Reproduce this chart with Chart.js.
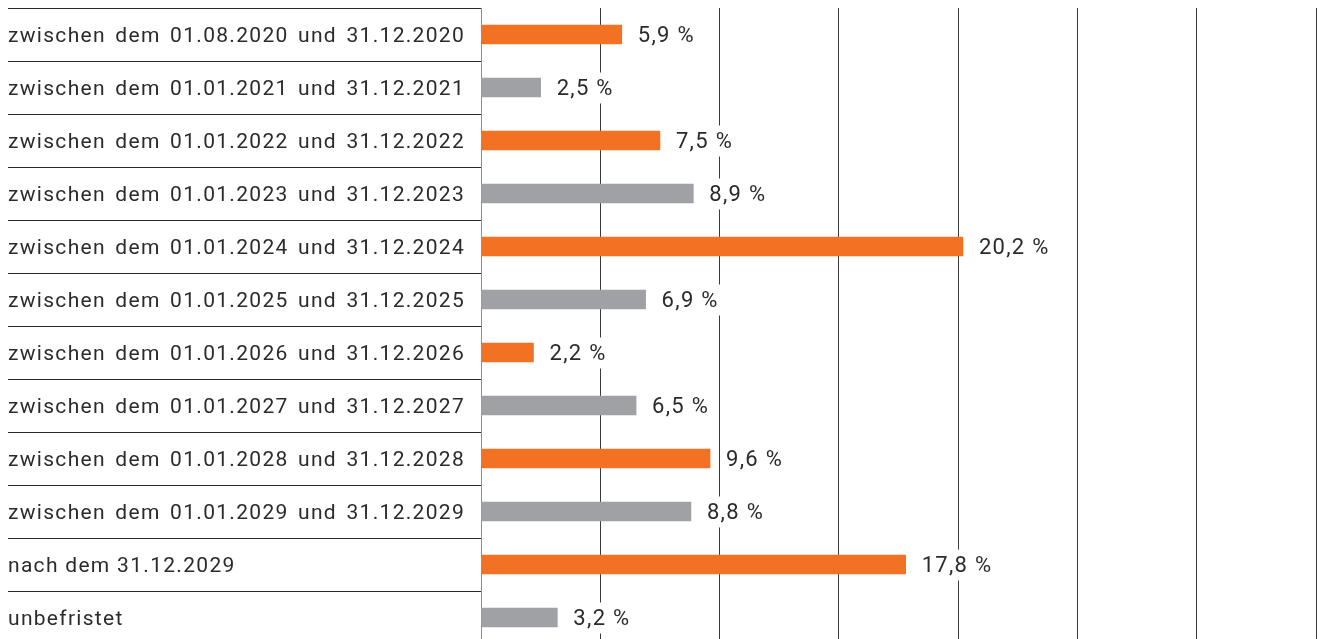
<!DOCTYPE html>
<html>
<head>
<meta charset="utf-8">
<script src="https://cdn.jsdelivr.net/npm/chart.js@4/dist/chart.umd.min.js"></script>
<style>
  html, body { margin: 0; padding: 0; background: #fff; overflow: hidden; }
  #wrap { position: relative; width: 1317px; height: 644px; }
</style>
</head>
<body>
<div id="wrap"><canvas id="laufzeitChart"></canvas></div>
<script>
// Laufzeiten – Anteil in %
const categories = [
  'zwischen dem 01.08.2020 und 31.12.2020',
  'zwischen dem 01.01.2021 und 31.12.2021',
  'zwischen dem 01.01.2022 und 31.12.2022',
  'zwischen dem 01.01.2023 und 31.12.2023',
  'zwischen dem 01.01.2024 und 31.12.2024',
  'zwischen dem 01.01.2025 und 31.12.2025',
  'zwischen dem 01.01.2026 und 31.12.2026',
  'zwischen dem 01.01.2027 und 31.12.2027',
  'zwischen dem 01.01.2028 und 31.12.2028',
  'zwischen dem 01.01.2029 und 31.12.2029',
  'nach dem 31.12.2029',
  'unbefristet'
];
const shares = [5.9, 2.5, 7.5, 8.9, 20.2, 6.9, 2.2, 6.5, 9.6, 8.8, 17.8, 3.2];

const axisMin = 0;
const axisMax = 35;
const axisStep = 5;

const ORANGE = '#f37123';
const GREY = '#a0a1a5';
const TEXT = '#2b2b2b';
const barColors = shares.map((_, i) => (i % 2 === 0 ? ORANGE : GREY));

const LABEL_LEFT = 8;
const LABEL_WIDTH = 457;   // the long rows are set justified to this width
const AXIS_WIDTH = 473;

function formatShare(v) {
  return v.toFixed(1).replace('.', ',') + '\u00A0%';
}

// category labels, drawn word by word so the long ones can be justified
const rowLabels = {
  id: 'rowLabels',
  afterDraw(chart) {
    const { ctx } = chart;
    const yScale = chart.scales.y;
    ctx.save();
    ctx.font = '21px Roboto';
    ctx.letterSpacing = '1.3px';
    ctx.fillStyle = TEXT;
    ctx.textBaseline = 'middle';
    ctx.textAlign = 'left';
    categories.forEach((label, i) => {
      const y = yScale.getPixelForValue(i) + 2;
      const words = label.split(' ');
      if (words.length < 4) {
        ctx.fillText(label, LABEL_LEFT, y);
        return;
      }
      const widths = words.map(w => ctx.measureText(w).width);
      const total = widths.reduce((a, b) => a + b, 0);
      const gap = (LABEL_WIDTH - total) / (words.length - 1);
      let x = LABEL_LEFT;
      words.forEach((w, k) => {
        ctx.fillText(w, x, y);
        x += widths[k] + gap;
      });
    });
    ctx.restore();
  }
};

// value labels with a white box behind them, so the grid lines break there
const valueLabels = {
  id: 'valueLabels',
  afterDatasetsDraw(chart) {
    const { ctx } = chart;
    const meta = chart.getDatasetMeta(0);
    ctx.save();
    ctx.font = '22px Roboto';
    ctx.letterSpacing = '1.3px';
    ctx.textBaseline = 'middle';
    ctx.textAlign = 'left';
    meta.data.forEach((bar, i) => {
      const text = formatShare(shares[i]);
      const x = bar.x + 16;
      const w = ctx.measureText(text).width;
      ctx.fillStyle = '#fff';
      ctx.fillRect(x - 3, bar.y - 15, w + 6, 31);
      ctx.fillStyle = TEXT;
      ctx.fillText(text, x, bar.y + 2);
    });
    ctx.restore();
  }
};

const ctx = document.getElementById('laufzeitChart').getContext('2d');

new Chart(ctx, {
  type: 'bar',
  data: {
    labels: categories,
    datasets: [{
      data: shares,
      backgroundColor: barColors,
      borderWidth: 0,
      barThickness: 19
    }]
  },
  options: {
    indexAxis: 'y',
    responsive: true,
    maintainAspectRatio: false,
    animation: false,
    layout: { padding: { left: 8, right: 1, top: 8, bottom: 0 } },
    plugins: {
      legend: { display: false },
      tooltip: { enabled: false }
    },
    scales: {
      x: {
        min: axisMin,
        max: axisMax,
        ticks: { display: false, stepSize: axisStep },
        grid: { color: '#3a3a3a', lineWidth: 1, drawTicks: false },
        border: { display: false }
      },
      y: {
        position: 'left',
        afterFit(scale) { scale.width = AXIS_WIDTH; },
        border: { display: true, color: '#8e8e8e', width: 1 },
        grid: {
          offset: true,
          drawOnChartArea: false,
          drawTicks: true,
          tickLength: AXIS_WIDTH,
          color: '#2a2a2a',
          lineWidth: 1
        },
        ticks: { display: false, autoSkip: false }
      }
    }
  },
  plugins: [valueLabels, rowLabels]
});
</script>
</body>
</html>
